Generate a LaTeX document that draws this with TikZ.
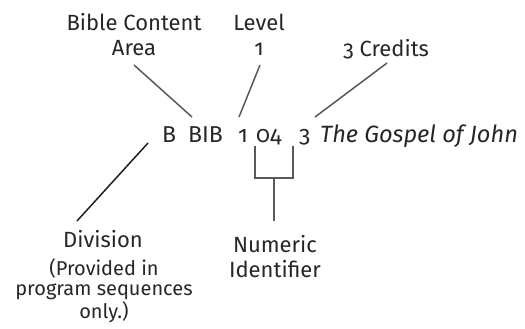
\documentclass[tikz,border=0pt]{standalone}
\usepackage{fontspec}
\setmainfont{Fira Sans}[Numbers=OldStyle]
\begin{document}
\begin{tikzpicture}[x=1pt,y=-1pt,
  lbl/.style={font=\fontsize{22}{25}\selectfont, text=black!85, align=center, inner sep=0pt, anchor=base},
  small/.style={font=\fontsize{20}{20.5}\selectfont, text=black!85, align=center, inner sep=0pt, anchor=base},
  code/.style={font=\fontsize{23}{26}\selectfont, text=black!85, anchor=base west, inner sep=0pt},
  conn/.style={draw=black!65, line width=1.5pt},
  dconn/.style={draw=black!88, line width=1.5pt}]
\useasboundingbox (0,0) rectangle (525,329);
% labels (base = baseline of last line)
\node[lbl] (bca) at (134,56) {Bible Content\\Area};
\node[lbl] (lvl) at (259,56) {Level\\1};
\node[lbl] (cr) at (386,57) {3 Credits};
% code tokens
\node[code] (b) at (162,142) {B};
\node[code] (bib) at (188,142) {BIB};
\node[code] (one) at (238,142) {1};
\node[code] (zf) at (256,142) {04};
\node[code] (three) at (299,142) {3};
\node[code, font=\fontsize{23.6}{26}\selectfont\itshape] (title) at (320,142) {The Gospel of John};
% bottom labels
\node[lbl] (div) at (103,247) {Division};
\node[small] (prov) at (104,318) {(Provided in\\program sequences\\only.)};
\node[lbl] (num) at (275,277) {Numeric\\Identifier};
% connectors
\coordinate (bcaE) at (134,65);
\coordinate (bibT) at (192,117);
\coordinate (lvlE) at (260,65);
\coordinate (oneT) at (239,117);
\coordinate (crE) at (387,63);
\coordinate (thrT) at (315,117);
\coordinate (bB) at (148,143);
\coordinate (divT) at (77,221);
\coordinate (brL) at (255,146);
\coordinate (brR) at (293,146);
\coordinate (brM) at (274,178);
\coordinate (stemB) at (274,221);
\draw[conn] (bcaE) -- (bibT);
\draw[conn] (lvlE) -- (oneT);
\draw[conn] (crE) -- (thrT);
\draw[dconn] (bB) -- (divT);
\draw[conn] (brL) |- (brM) -| (brR);
\draw[conn] (brM) -- (stemB);
\end{tikzpicture}
\end{document}
